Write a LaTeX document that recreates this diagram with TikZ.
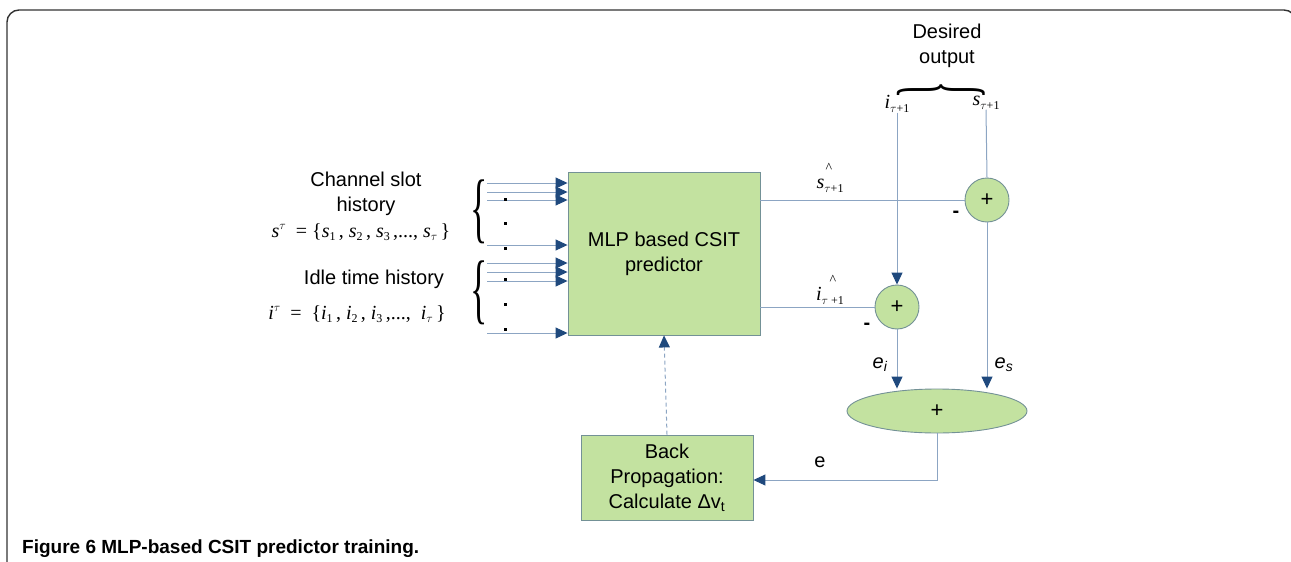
\documentclass[tikz,border=0pt]{standalone}
\usepackage{fontspec}
\setmainfont{Liberation Sans}
\newfontfamily\tnr{Liberation Serif}
\usetikzlibrary{arrows.meta,shapes.geometric}
\definecolor{boxgreen}{RGB}{195,226,160}
\definecolor{boxedge}{RGB}{115,145,150}
\definecolor{linec}{RGB}{140,165,195}
\definecolor{tipc}{RGB}{31,73,125}
\definecolor{framec}{RGB}{50,50,50}
\newcommand{\tsub}[2]{\textit{#1}\raisebox{-0.4ex}{\fontsize{12}{12}\selectfont #2}}
\newcommand{\tsup}[2]{\textit{#1}\raisebox{0.8ex}{\fontsize{12}{12}\selectfont #2}}
\begin{document}
\begin{tikzpicture}[x=1pt,y=-1pt,
  gbox/.style={draw=boxedge, fill=boxgreen, line width=0.9pt, align=center, inner sep=0pt, font=\fontsize{20}{25}\selectfont},
  conn/.style={draw=linec, line width=1pt},
  arr/.style={conn, -{Triangle[length=12pt,width=11pt,color=tipc]}},
  sumnode/.style={draw=boxedge, fill=boxgreen, line width=0.9pt, inner sep=0pt, font=\fontsize{22}{22}\selectfont},
  lbl/.style={font=\fontsize{20}{25}\selectfont, align=center, inner sep=0pt},
  tlbl/.style={font=\tnr\fontsize{20}{20}\selectfont, inner sep=0pt},
  hat/.style={font=\tnr\fontsize{14}{14}\selectfont, inner sep=0pt},
  dotn/.style={fill=black, minimum size=3pt, inner sep=0pt},
  brc/.style={font=\tnr\fontsize{36}{36}\selectfont, inner sep=0pt}
]
\useasboundingbox (0,0) rectangle (1291,562);
% frame
\draw[framec, line width=1.4pt, rounded corners=12pt] (7,570) -- (7,10) -- (1296,10) -- (1296,570);

% main boxes
\node[gbox, minimum width=192pt, minimum height=163pt] (mlp) at (664,253.5) {MLP based CSIT\\predictor};
\node[gbox, minimum width=172pt, minimum height=85pt] (bp) at (667,477.5) {Back\\Propagation:\\Calculate Δv\textsubscript{t}};

% summing nodes
\node[sumnode, circle, minimum size=44pt] (cs) at (987,200) {+};
\node[sumnode, circle, minimum size=44pt] (ci) at (897,307) {+};
\node[sumnode, ellipse, minimum width=180pt, minimum height=44pt] (ce) at (937,411) {+};

% left labels
\node[lbl] (chl) at (366,194) {Channel slot\\history};
\node[tlbl] (sform) at (361,232) {\tsup{s}{$\tau$}\ \ = \{\tsub{s}{1}\,, \tsub{s}{2}\,, \tsub{s}{3}\,,..., \tsub{s}{$\tau$}\,\}};
\node[lbl] (idl) at (374,279) {Idle time history};
\node[tlbl] (iform) at (357,314) {\tsup{i}{$\tau$}\ \ = \ \{\tsub{i}{1}\,, \tsub{i}{2}\,, \tsub{i}{3}\,,...,\ \ \tsub{i}{$\tau$}\,\}};

% braces
\node[brc] (br1) at (479,212) {\scalebox{1}[2.15]{\{}};
\node[brc] (br2) at (479,293) {\scalebox{1}[2.15]{\{}};

% input arrows
\foreach \n/\yy in {a1/183,a2/192,a3/200,a4/245,a5/263,a6/272,a7/281,a8/333}{
  \coordinate (\n) at (487,\yy);
  \draw[arr] (\n) -- (\n -| mlp.west);
}
% dots
\foreach \n/\yy in {d1/199,d2/223,d3/248,d4/279,d5/304,d6/329}{
  \node[dotn] (\n) at (505,\yy) {};
}

% desired output
\node[lbl] (des) at (947,46) {Desired\\output};
\node[brc, rotate=-90] (topbr) at (941,90) {\scalebox{1}[2.95]{\{}};
\node[tlbl] (ilab) at (897,104) {\tsub{i}{$\tau$+1}};
\node[tlbl] (slab) at (986,103) {\tsub{s}{$\tau$+1}};

% output labels
\node[hat] (h1) at (829,168) {\^{}};
\node[tlbl] (shat) at (830,186) {\tsub{s}{$\tau$+1}};
\node[hat] (h2) at (833,280) {\^{}};
\node[tlbl] (ihat) at (830,296) {\tsub{i}{$\tau$ +1}};

\node[lbl, font=\fontsize{20}{20}\selectfont\bfseries] (m1) at (956,214) {-};
\node[lbl, font=\fontsize{20}{20}\selectfont\bfseries] (m2) at (867,326) {-};

% connectors
\draw[conn] (mlp.east |- cs) -- (cs.west);
\draw[conn] (mlp.east |- ci) -- (ci.west);
\draw[conn] (slab.south) -- (cs.north);
\draw[arr] (ilab.south) -- (ci.north);
\draw[arr] (ci.south) -- (ci.south |- ce.north);
\draw[arr] (cs.south) -- (cs.south |- ce.north);
\draw[arr] (ce.south) |- ([yshift=-2.5pt]bp.east);
\draw[arr, dash pattern=on 4pt off 3pt] (bp.north) -- (mlp.south);

\node[lbl] (ei) at (880,365) {\textit{e\textsubscript{i}}};
\node[lbl] (es) at (1004,365) {\textit{e\textsubscript{s}}};
\node[lbl] (el) at (820,462) {e};

% caption
\node[anchor=base west, inner sep=0pt, font=\fontsize{19}{20}\selectfont\bfseries] (cap) at (22,553) {Figure 6 MLP-based CSIT predictor training.};
\end{tikzpicture}
\end{document}
